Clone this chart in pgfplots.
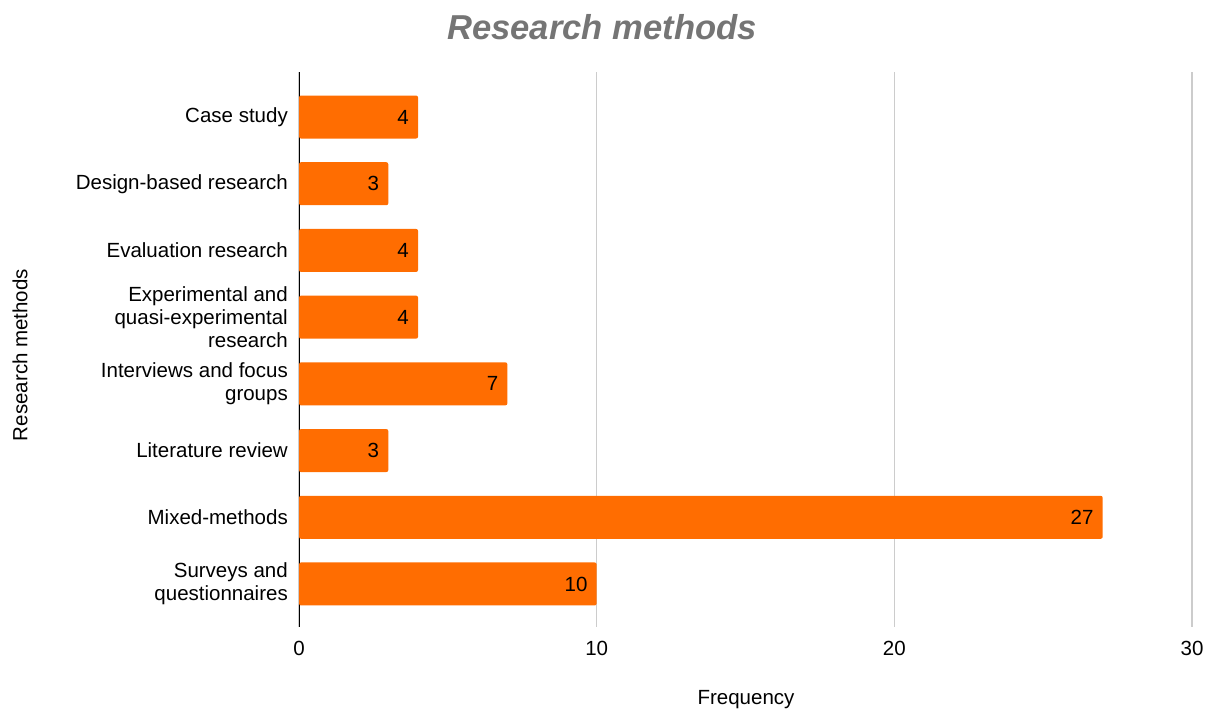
\documentclass[border=0pt]{standalone}
\usepackage{pgfplots}
\pgfplotsset{compat=1.18}
\usepackage{fontspec}
\setmainfont{Liberation Sans}
\definecolor{barorange}{HTML}{FF6D01}
\definecolor{titlegray}{HTML}{757575}
\definecolor{gridgray}{HTML}{CCCCCC}
\begin{document}
\begin{tikzpicture}[x=1pt,y=1pt]
\path[use as bounding box] (0,0) rectangle (1213,713);
\begin{axis}[
  at={(299pt,86pt)}, anchor=south west,
  scale only axis,
  width=893pt, height=555pt,
  xbar, bar width=43pt,
  xmin=0, xmax=30,
  ymin=-0.675, ymax=7.645,
  y dir=reverse,
  ytick={0,1,2,3,4,5,6,7},
  yticklabels={Case study,Design-based research,Evaluation research,{Experimental and\\quasi-experimental\\research},{Interviews and focus\\groups},Literature review,Mixed-methods,{Surveys and\\questionnaires}},
  xtick={0,10,20,30},
  major tick length=0pt,
  xmajorgrids,
  major grid style={gridgray, line width=1.3pt},
  axis y line*=left,
  axis x line*=bottom,
  x axis line style={draw=none},
  y axis line style={black, line width=1pt, -},
  /pgf/number format/assume math mode=true,
  ticklabel style={font=\fontsize{20.5}{23}\selectfont},
  yticklabel style={align=right, inner sep=0pt, xshift=-11pt},
  xticklabel style={inner sep=0pt, yshift=-14pt},
  nodes near coords,
  nodes near coords style={font=\fontsize{20.5}{23}\selectfont, anchor=east, inner sep=0pt, xshift=-9pt, text=black},
  clip=false,
]
\addplot[fill=barorange, draw=none, rounded corners=2pt] coordinates {
  (4,0) (3,1) (4,2) (4,3) (7,4) (3,5) (27,6) (10,7)
};
\end{axis}
\node[font=\fontsize{34.6}{40}\selectfont\bfseries\itshape, text=titlegray] at (602,686) {Research methods};
\node[font=\fontsize{20.5}{23}\selectfont, rotate=90] at (20,358) {Research methods};
\node[font=\fontsize{20.5}{23}\selectfont] at (746,13) {Frequency};
\end{tikzpicture}
\end{document}
